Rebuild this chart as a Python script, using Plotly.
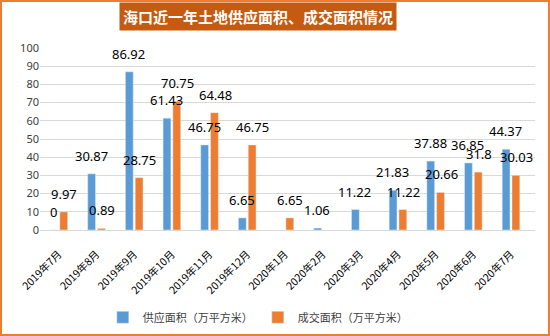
import plotly.graph_objects as go

categories = ["2019年7月", "2019年8月", "2019年9月", "2019年10月", "2019年11月", "2019年12月",
              "2020年1月", "2020年2月", "2020年3月", "2020年4月", "2020年5月", "2020年6月", "2020年7月"]
supply = [0, 30.87, 86.92, 61.43, 46.75, 6.65, None, 1.06, 11.22, 21.83, 37.88, 36.85, 44.37]
deal = [9.97, 0.89, 28.75, 70.75, 64.48, 46.75, 6.65, None, None, 11.22, 20.66, 31.8, 30.03]
y_ticks = list(range(0, 101, 10))

BLUE = "#5B9BD5"
ORANGE = "#ED7D31"

fig = go.Figure()
fig.add_trace(go.Bar(x=categories, y=supply, name="供应面积（万平方米）", marker_color=BLUE))
fig.add_trace(go.Bar(x=categories, y=deal, name="成交面积（万平方米）", marker_color=ORANGE))

annotations = []
for series, shift in ((supply, -5.5), (deal, 5.5)):
    for c, v in zip(categories, series):
        if v is None:
            continue
        annotations.append(dict(x=c, y=v, xref="x", yref="y", text=f"{v:g}", showarrow=False,
                                xshift=shift, yshift=7, yanchor="bottom",
                                font=dict(family="Noto Sans, DejaVu Sans", size=13, color="#000000")))

annotations.append(dict(x=0.5, y=1.0, xref="paper", yref="paper", yanchor="bottom", yshift=17,
                        xshift=-30,
                        text="<b>海口近一年土地供应面积、成交面积情况</b>", showarrow=False,
                        bgcolor="#C55A11", borderpad=3,
                        font=dict(family="Noto Sans CJK SC", size=15, color="#FFFFFF")))

W, H = 550, 336
ml, mr, mt, mb = 40, 15, 48, 106
pw, ph = W - ml - mr, H - mt - mb

fig.update_layout(
    width=W, height=H,
    margin=dict(l=ml, r=mr, t=mt, b=mb, autoexpand=False),
    paper_bgcolor="white", plot_bgcolor="white",
    barmode="group", bargap=0.48, bargroupgap=0.2,
    annotations=annotations,
    legend=dict(orientation="h", x=0.44, xanchor="center", y=-0.40, yanchor="top",
                font=dict(family="Noto Sans CJK SC", size=11, color="#404040"),
                itemwidth=30, tracegroupgap=0),
    shapes=[dict(type="rect", xref="paper", yref="paper",
                 x0=-(ml - 1) / pw, x1=1 + (mr - 1) / pw,
                 y0=-(mb - 1) / ph, y1=1 + (mt - 1) / ph,
                 line=dict(color="#ED7D31", width=2), layer="below")],
    xaxis=dict(tickangle=-45, tickfont=dict(family="Noto Sans CJK SC", size=10.5, color="#000000"),
               showline=True, linecolor="#D9D9D9", ticks="", showgrid=False,
               ticklabelstandoff=13, automargin=False),
    yaxis=dict(range=[0, 100], tickvals=y_ticks, showgrid=True, gridcolor="#D9D9D9",
               zeroline=False, ticks="", automargin=False,
               tickfont=dict(family="Noto Sans", size=11, color="#404040")),
)

fig.write_html("out.html")
